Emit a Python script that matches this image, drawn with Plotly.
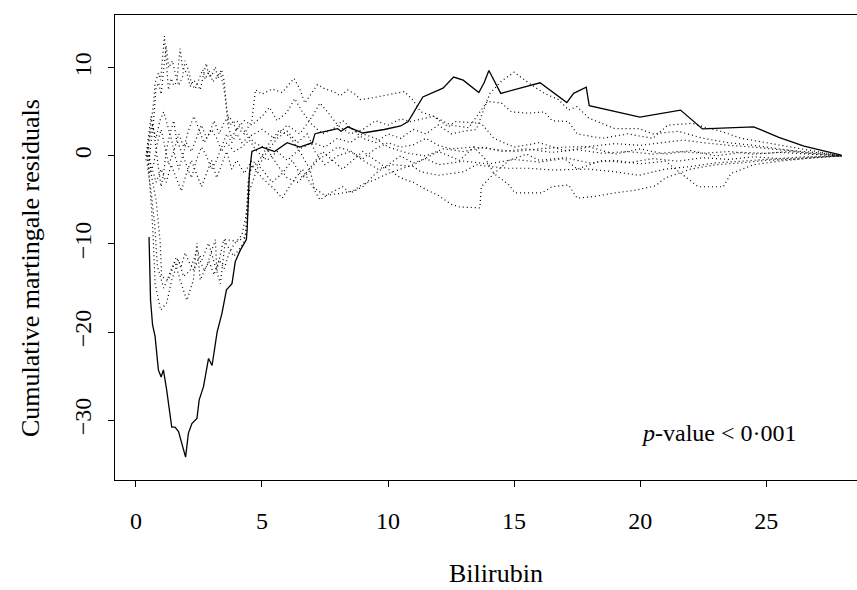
import plotly.graph_objects as go

# ---------------- data ----------------
obs_x = [0.52, 0.58, 0.66, 0.76, 0.89, 1.0, 1.09, 1.22, 1.42, 1.55, 1.69, 1.82, 1.97, 2.08, 2.22, 2.42,
         2.51, 2.68, 2.88, 3.02, 3.22, 3.41, 3.59, 3.81, 3.94, 4.14, 4.38, 4.41, 4.45, 4.5, 4.6, 5.0,
         5.5, 6.0, 6.5, 7.0, 7.1, 7.2, 8.0, 8.13, 8.4, 9.0, 9.85, 10.5, 10.8, 11.38, 12.18, 12.6, 12.98,
         13.6, 13.81, 14.0, 14.47, 16.03, 17.09, 17.36, 17.86, 17.98, 19.99, 21.6, 22.47, 24.5, 24.8,
         25.5, 26.5, 27.98]
obs_y = [-9.2, -16.4, -19.2, -20.5, -24.3, -25.1, -24.3, -26.6, -30.8, -30.8, -31.3, -32.7, -34.2, -31.5,
         -30.4, -29.8, -27.7, -26.2, -23.0, -23.8, -20.0, -17.9, -15.2, -14.5, -12.0, -10.7, -9.5, -8.4,
         -5.0, -2.0, 0.5, 1.0, 0.5, 1.5, 1.0, 1.5, 2.5, 2.6, 3.1, 2.8, 3.3, 2.6, 3.0, 3.4, 3.9, 6.7, 7.7,
         8.95, 8.6, 7.2, 8.3, 9.7, 7.1, 8.3, 6.06, 7.1, 7.8, 5.7, 4.4, 5.2, 3.07, 3.3, 2.95, 2.1, 1.1, 0.1]

sim1_x = [0.45, 0.55, 0.7, 0.76, 0.89, 0.98, 1.06, 1.13, 1.2, 1.29, 1.4, 1.5, 1.62, 1.75, 1.85, 2.02, 2.15,
          2.3, 2.45, 2.55, 2.7, 2.79, 2.9, 3.02, 3.15, 3.25, 3.35, 3.48, 3.55, 3.65, 3.8, 4.0, 4.3, 4.6,
          4.74, 5.0, 5.4, 5.8, 6.27, 6.5, 6.7, 7.0, 7.2, 7.5, 7.85, 8.1, 8.4, 8.7, 8.9, 9.3, 10.0, 10.65,
          11.0, 11.3, 11.8, 12.4, 12.64, 13.2, 13.7, 14.2, 15.0, 16.0, 17.0, 18.0, 19.0, 20.0, 21.0, 22.0,
          23.0, 24.0, 25.0, 26.0, 27.0, 28.0]
sim1_y = [0.3, 2.5, 6.0, 8.3, 9.4, 8.6, 11.5, 13.6, 11.0, 7.5, 8.8, 8.0, 8.4, 12.2, 10.0, 9.4, 7.9,
          8.6, 8.0, 7.5, 9.5, 10.5, 9.0, 9.2, 10.1, 8.8, 9.4, 7.9, 6.4, 3.5, 2.0, 3.2, 2.5, 4.0,
          7.5, 7.0, 7.6, 7.2, 8.8, 7.6, 6.0, 7.2, 8.1, 7.6, 7.3, 6.8, 7.5, 7.0, 6.4, 6.55, 6.9, 7.3,
          6.3, 5.0, 4.5, 3.3, 3.9, 3.8, 3.7, 2.0, 1.0, 1.5, 0.6, 1.0, 0.2, 0.8, 0.2, 0.6,
          0.0, 0.4, 0.3, 0.5, 0.2, 0.0]

sim2_x = [0.5, 0.6, 0.7, 0.8, 0.9, 1.0, 1.1, 1.2, 1.3, 1.45, 1.55, 1.7, 1.85, 1.95, 2.1, 2.2, 2.35, 2.5,
          2.65, 2.75, 2.9, 3.05, 3.2, 3.4, 3.5, 3.6, 3.7, 4.0, 4.3, 4.7, 5.2, 5.6, 6.0, 6.4, 6.8, 7.2,
          7.6, 8.0, 8.5, 9.0, 9.6, 10.2, 11.0, 11.3, 12.0, 12.5, 13.0, 13.5, 14.0, 14.77, 15.57, 16.5,
          17.96, 19.0, 19.95, 21.0, 22.0, 23.0, 24.0, 25.0, 26.0, 27.0, 28.0]
sim2_y = [-1.0, 1.5, 4.0, 7.8, 8.3, 7.0, 9.5, 12.5, 10.0, 10.8, 9.5, 8.0, 9.0, 10.8, 9.6, 8.2, 7.6, 8.6,
          9.8, 8.7, 9.7, 8.4, 8.9, 9.8, 8.5, 5.5, 3.5, 4.0, 2.8, 1.5, 0.8, -1.0, -2.5, -3.0, -2.0, -0.5,
          0.3, 1.0, 0.6, -0.5, -1.5, -1.0, -1.2, -1.8, -2.2, -2.0, -1.8, -1.0, -1.2, -1.4, -1.4, -1.6,
          -1.5, -1.8, -2.2, -1.5, -1.2, -0.8, -0.6, -0.4, -0.3, -0.1, 0.0]

sim3_x = [0.45, 0.55, 0.62, 0.69, 0.76, 0.98, 1.22, 1.42, 1.69, 1.89, 2.15, 2.42, 2.62, 2.88, 3.08, 3.35,
          3.55, 4.01, 4.34, 4.41, 4.45, 4.6, 5.0, 5.5, 5.8, 6.2, 6.6, 7.0, 7.5, 8.0, 8.6, 9.0, 9.4, 10.0,
          11.0, 12.0, 12.84, 13.4, 14.0, 15.0, 16.0, 17.0, 17.96, 19.0, 20.0, 21.0, 21.7, 22.5, 23.5,
          24.5, 25.5, 26.5, 27.3, 28.0]
sim3_y = [0.5, -3.0, -6.0, -9.5, -14.5, -17.5, -16.7, -14.1, -11.8, -13.7, -13.0, -10.7, -11.8, -9.9,
          -11.8, -14.5, -9.5, -9.7, -9.2, -6.1, -3.0, -1.0, -2.5, -3.8, -4.8, -3.0, -1.5, -3.5, -4.5,
          -4.3, -4.0, -3.2, -2.8, -2.0, -1.0, 0.5, -0.5, 1.0, 0.8, 0.5, 0.8, 1.0, 1.06, 1.4, 1.2, 1.6,
          1.8, 1.5, 1.2, 1.0, 0.7, 0.5, 0.3, 0.0]

sim4_x = [0.5, 0.6, 0.8, 0.96, 1.02, 1.29, 1.55, 1.75, 2.02, 2.28, 2.42, 2.55, 2.82, 3.15, 3.21, 3.48,
          3.88, 4.27, 4.4, 4.45, 4.5, 4.8, 5.2, 5.6, 6.0, 6.4, 6.8, 7.1, 7.5, 8.0, 8.5, 9.0, 9.5, 10.0,
          10.5, 11.0, 11.5, 12.0, 12.5, 13.4, 13.9, 14.2, 14.8, 15.03, 16.1, 16.5, 17.16, 17.5, 18.2,
          19.0, 19.8, 20.6, 21.0, 22.0, 23.0, 24.0, 25.0, 26.0, 27.0, 28.0]
sim4_y = [1.0, -2.0, -5.0, -9.7, -13.7, -14.1, -12.0, -14.1, -16.4, -14.1, -9.9, -14.1, -12.4, -9.5,
          -13.0, -9.5, -11.4, -9.9, -8.0, -5.5, -4.0, -1.5, 0.5, 2.0, 2.8, 1.5, 2.5, 0.5, -1.0, 0.0,
          0.5, -0.3, 0.8, 1.5, 1.0, 1.25, 2.0, 1.2, 0.8, 1.0, -0.5, -2.0, -3.3, -4.2, -4.2, -3.5,
          -3.3, -4.8, -4.6, -4.2, -3.9, -3.4, -2.5, -1.5, -1.0, -0.8, -0.5, -0.4, -0.2, 0.0]

sim5_x = [0.45, 0.6, 0.75, 0.85, 0.95, 1.1, 1.25, 1.4, 1.6, 1.8, 1.95, 2.1, 2.3, 2.5, 2.7, 2.9, 3.1, 3.3,
          3.5, 3.7, 3.9, 4.2, 4.35, 4.42, 4.47, 4.55, 4.9, 5.3, 5.7, 6.1, 6.5, 6.9, 7.1, 7.3, 7.7, 8.2,
          8.5, 9.0, 9.5, 10.0, 10.5, 11.0, 11.5, 12.0, 13.0, 14.0, 15.0, 16.0, 17.0, 17.5, 18.0, 18.5,
          19.5, 20.5, 21.5, 22.5, 23.5, 24.5, 25.5, 26.5, 27.3, 28.0]
sim5_y = [-1.0, -4.0, -8.0, -12.5, -13.5, -15.0, -14.0, -13.0, -11.5, -12.5, -11.0, -12.0, -13.0, -11.5,
          -13.0, -12.0, -13.5, -11.8, -12.8, -11.0, -10.0, -9.0, -7.0, -5.5, -3.0, -1.5, -0.5, 1.5, 3.0,
          2.2, 0.5, -1.5, -4.0, -5.0, -4.2, -3.5, -4.2, -3.5, -2.0, -1.0, 0.0, -0.8, -0.3, -1.0, -0.6,
          -0.9, -0.4, -0.7, -0.3, -1.5, -1.0, -0.5, -0.8, -0.3, -0.6, -0.2, -0.4, -0.1, -0.3, -0.1,
          -0.1, 0.0]

sim6_x = [0.4, 0.5, 0.6, 0.7, 0.8, 0.9, 1.0, 1.1, 1.2, 1.35, 1.5, 1.6, 1.8, 2.0, 2.2, 2.4, 2.6, 2.8, 3.0,
          3.2, 3.4, 3.6, 3.8, 4.0, 4.2, 4.5, 5.0, 5.5, 6.0, 6.5, 7.0, 7.3, 7.6, 8.0, 8.5, 9.0, 9.5, 10.0,
          10.5, 10.9, 11.8, 12.5, 13.2, 13.94, 14.5, 14.9, 15.57, 16.2, 16.5, 17.16, 17.5, 18.5, 19.5,
          20.5, 21.1, 22.07, 22.5, 23.2, 24.0, 25.0, 26.0, 27.0, 28.0]
sim6_y = [0.0, 2.0, 4.5, 3.0, 0.5, -1.5, -3.5, -2.0, 0.5, 2.5, 4.0, 2.0, 0.5, -1.0, -2.5, -0.5, 1.0,
          0.0, -1.5, -0.5, 1.0, 2.5, 1.5, 2.5, 1.5, 2.2, 3.0, 2.0, 3.5, 2.5, 4.5, 6.0, 5.0, 3.5, 2.5,
          3.0, 4.0, 3.5, 4.2, 3.9, 4.5, 3.5, 3.2, 6.2, 6.0, 5.0, 4.85, 5.0, 4.0, 3.9, 2.5, 2.0, 2.5,
          2.0, 3.5, 3.7, 3.3, 2.8, 2.0, 1.5, 1.0, 0.5, 0.0]

sim7_x = [0.45, 0.55, 0.7, 0.85, 1.0, 1.15, 1.3, 1.5, 1.7, 1.9, 2.1, 2.3, 2.5, 2.7, 2.9, 3.1, 3.3, 3.5,
          3.7, 4.0, 4.3, 4.6, 5.0, 5.3, 5.6, 6.0, 6.3, 6.6, 7.0, 7.4, 7.8, 8.2, 8.6, 9.0, 9.5, 10.0, 10.5,
          11.0, 11.5, 12.0, 12.5, 13.0, 13.5, 14.04, 14.5, 15.0, 15.57, 16.2, 16.76, 17.16, 17.5, 17.96,
          19.0, 19.95, 20.5, 21.5, 22.5, 23.5, 24.5, 25.5, 26.5, 27.3, 28.0]
sim7_y = [0.0, -2.0, -1.0, 1.5, 3.0, 1.0, -1.0, 0.5, 2.5, 1.0, 3.0, 4.5, 3.0, 1.5, 2.5, 4.0, 2.5, 3.8,
          4.5, 3.0, 4.0, 3.5, 4.5, 5.5, 4.0, 5.0, 6.5, 5.0, 3.5, 2.5, 3.0, 4.0, 3.0, 2.0, 1.5, 2.5, 2.0,
          3.0, 2.5, 3.5, 2.5, 2.8, 3.0, 7.1, 8.5, 9.5, 8.3, 7.1, 6.4, 5.2, 5.6, 4.3,
          3.1, 3.1, 2.5, 2.8, 2.0, 1.5, 1.2, 0.8, 0.4, 0.2, 0.0]

sim8_x = [0.45, 0.6, 0.8, 1.0, 1.2, 1.4, 1.6, 1.8, 2.0, 2.2, 2.4, 2.6, 2.8, 3.0, 3.2, 3.4, 3.6, 3.8, 4.0,
          4.3, 4.6, 5.0, 5.4, 5.8, 6.2, 6.6, 7.0, 7.4, 7.8, 8.2, 8.6, 9.0, 9.5, 10.0, 10.5, 11.0, 11.5,
          12.0, 12.5, 12.84, 13.64, 13.7, 14.2, 14.8, 15.5, 16.0, 17.0, 18.0, 19.0, 20.0, 21.0, 22.3,
          23.3, 23.6, 24.5, 25.5, 26.5, 27.3, 28.0]
sim8_y = [0.5, -1.0, -3.0, -1.5, -3.0, -1.0, -2.5, -4.0, -2.0, -0.5, -2.0, -3.5, -2.0, -0.5, -2.5, -1.0,
          0.5, -1.5, -0.5, -2.0, -0.5, -1.5, -3.0, -2.0, -0.5, -2.5, -1.0, 0.5, -0.5, -1.5, -0.5, 0.5,
          -0.5, -1.5, -2.5, -3.0, -3.8, -4.5, -5.5, -5.8, -5.9, -3.5, -2.0, -0.5, 0.2, -0.5, -0.2,
          -0.8, -0.5, -0.9, -0.6, -3.5, -3.5, -2.0, -1.0, -0.6, -0.3, -0.1, 0.0]

sim9_x = [0.4, 0.5, 0.65, 0.8, 0.95, 1.1, 1.25, 1.4, 1.55, 1.7, 1.85, 2.0, 2.2, 2.4, 2.6, 2.8, 3.0, 3.2,
          3.4, 3.6, 3.9, 4.2, 4.5, 4.8, 5.2, 5.6, 6.0, 6.5, 7.0, 7.5, 8.0, 8.5, 9.0, 9.5, 10.0, 10.8, 11.5,
          12.2, 13.0, 13.8, 14.5, 15.5, 16.5, 17.5, 18.5, 19.5, 20.5, 21.5, 22.5, 23.5, 24.5, 25.5, 26.5,
          27.3, 28.0]
sim9_y = [-0.5, 1.5, 3.5, 2.0, 4.0, 5.0, 3.5, 2.0, 0.0, -1.5, 0.0, 1.5, 0.5, 2.0, 3.5, 2.0, 3.0, 2.0,
          0.5, 1.5, 0.5, 1.0, 1.8, 0.5, -0.5, 0.5, -0.5, 0.8, 1.5, 1.0, 2.0, 1.5, 2.5, 2.0, 1.0, 0.3, 0.0,
          0.8, 0.5, 1.0, 0.5, 0.8, 0.4, 0.7, 0.3, 0.5, 0.2, 0.5, 0.3, 0.5, 0.2, 0.4, 0.2, 0.1, 0.0]

sims = [(sim1_x, sim1_y), (sim2_x, sim2_y), (sim3_x, sim3_y), (sim4_x, sim4_y), (sim5_x, sim5_y),
        (sim6_x, sim6_y), (sim7_x, sim7_y), (sim8_x, sim8_y), (sim9_x, sim9_y)]

x_ticks = [0, 5, 10, 15, 20, 25]
y_ticks = [-30, -20, -10, 0, 10]
y_ticktext = ["\u221230", "\u221220", "\u221210", "0", "10"]
x_title = "Bilirubin"
y_title = "Cumulative martingale residuals"
p_text = "<i>p</i>-value < 0·001"

# ---------------- figure ----------------
FONT = "Liberation Serif"
fig = go.Figure()
for sx, sy in sims:
    fig.add_trace(go.Scatter(x=sx, y=sy, mode="lines",
                             line=dict(color="black", width=1.2, dash="1px,3px"),
                             showlegend=False, hoverinfo="skip"))
fig.add_trace(go.Scatter(x=obs_x, y=obs_y, mode="lines",
                         line=dict(color="black", width=1.3), showlegend=False))

fig.update_layout(
    width=857, height=590,
    margin=dict(l=115, r=0, t=15, b=110),
    paper_bgcolor="white", plot_bgcolor="white",
    font=dict(family=FONT, size=24, color="black"),
    showlegend=False,
)
fig.update_xaxes(range=[-0.83, 28.6], tickvals=x_ticks, ticks="outside", ticklen=6, tickwidth=1,
                 tickcolor="black", showline=True, linecolor="black", linewidth=1.2, mirror=True,
                 showgrid=False, zeroline=False, ticklabelstandoff=13,
                 tickfont=dict(family=FONT, size=24, color="black"))
fig.update_yaxes(range=[-36.8, 16.0], tickvals=y_ticks, ticktext=y_ticktext,
                 ticks="outside", ticklen=6, tickwidth=1,
                 tickcolor="black", showline=True, linecolor="black", linewidth=1.2, mirror=False,
                 showgrid=False, zeroline=False, tickangle=-90, ticklabelstandoff=7,
                 tickfont=dict(family=FONT, size=24, color="black"))

fig.add_annotation(text=x_title, xref="paper", yref="paper", x=(496 - 115) / 742, y=(480 - 573) / 465,
                   xanchor="center", yanchor="middle", showarrow=False,
                   font=dict(family=FONT, size=26, color="black"))
fig.add_annotation(text=y_title, xref="paper", yref="paper", x=(30 - 115) / 742, y=(480 - 268) / 465,
                   xanchor="center", yanchor="middle", showarrow=False, textangle=-90,
                   font=dict(family=FONT, size=26, color="black"))
fig.add_annotation(text=p_text, xref="paper", yref="paper", x=(719 - 115) / 742, y=(480 - 433) / 465,
                   xanchor="center", yanchor="middle", showarrow=False,
                   font=dict(family=FONT, size=24, color="black"))

fig.write_html("out.html")
